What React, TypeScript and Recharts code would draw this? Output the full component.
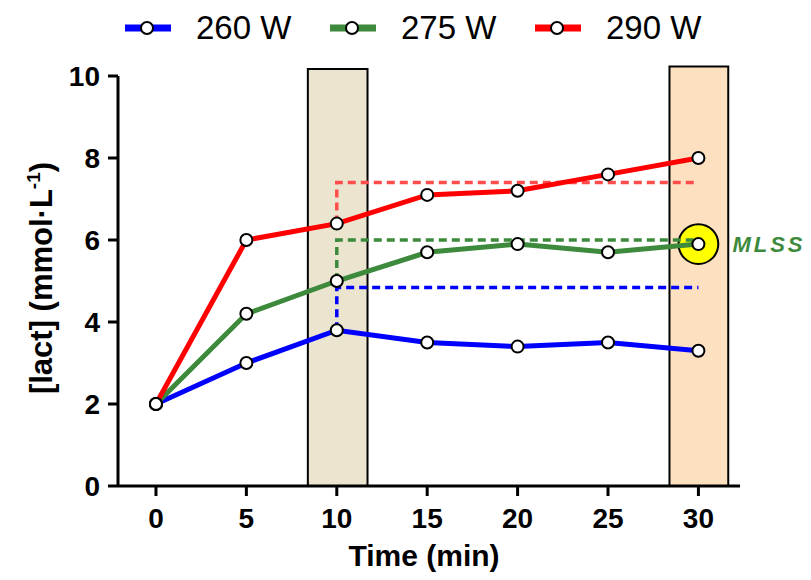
import {
  Label,
  Line,
  LineChart,
  ReferenceArea,
  ReferenceDot,
  XAxis,
  YAxis,
} from "recharts";

const minutes = [0, 5, 10, 15, 20, 25, 30];
const w260 = [2, 3.0, 3.8, 3.5, 3.4, 3.5, 3.3];
const w275 = [2, 4.2, 5.0, 5.7, 5.9, 5.7, 5.9];
const w290 = [2, 6.0, 6.4, 7.1, 7.2, 7.6, 8.0];
const xTicks = [0, 5, 10, 15, 20, 25, 30];
const yTicks = [0, 2, 4, 6, 8, 10];

// plateau level reached from 10 min on (dashed guides)
const plateau260 = 4.84;
const plateau275 = 6.0;
const plateau290 = 7.4;

// shaded sampling windows: [from, to, top]
const windowEarly = [8.4, 11.7, 10.17];
const windowLate = [28.4, 31.65, 10.23];
// MLSS marker: time, value, half-width (min), half-height (mmol/L)
const mlss = [30, 5.9, 1.1, 0.49];

const BLUE = "#0000ff";
const GREEN = "#3d8a3d";
const RED = "#ff0000";
const FONT = "'Liberation Sans', Arial, sans-serif";

const data = minutes.map((t, i) => ({ t, a: w260[i], b: w275[i], c: w290[i] }));

const guide = (start: number, level: number) => [
  { t: 10, v: start },
  { t: 10, v: level },
  { t: 30, v: level },
];

const series = [
  { key: "a", name: "260 W", color: BLUE },
  { key: "b", name: "275 W", color: GREEN },
  { key: "c", name: "290 W", color: RED },
];

const dot = { r: 6, fill: "#fff", stroke: "#000", strokeWidth: 2 };
const tickStyle = { fontFamily: FONT, fontWeight: 700, fontSize: 28, fill: "#000" };

function YTitle() {
  return (
    <text
      transform="translate(44,270) rotate(-90)"
      textAnchor="middle"
      fontFamily={FONT}
      fontWeight={700}
      fontSize={31}
      fill="#000"
    >
      [lact] (mmol·L
      <tspan dy={-12} fontSize={19}>-1</tspan>
      <tspan dy={12}>)</tspan>
    </text>
  );
}

function XTitle({ viewBox }: any) {
  return (
    <text
      x={viewBox.x + viewBox.width / 2 - 5}
      y={viewBox.y + 80}
      textAnchor="middle"
      fontFamily={FONT}
      fontWeight={700}
      fontSize={30}
      fill="#000"
    >
      Time (min)
    </text>
  );
}

function MlssRing(props: any) {
  const { x, y, width, height } = props;
  const r = Math.min(Math.abs(width), Math.abs(height)) / 2;
  return (
    <circle
      cx={x + width / 2}
      cy={y + height / 2}
      r={r}
      fill="#ffff00"
      stroke="#000"
      strokeWidth={2}
    />
  );
}

function LegendBar() {
  return (
    <>
      {series.map((s, i) => (
        <div
          key={s.key}
          style={{
            position: "absolute",
            left: 117 + i * 205,
            top: 0,
            height: 40,
            display: "flex",
            alignItems: "center",
          }}
        >
          <svg width={46} height={20}>
            <line x1={0} y1={10} x2={46} y2={10} stroke={s.color} strokeWidth={7} />
            <circle cx={22} cy={10} r={6} fill="#fff" stroke="#000" strokeWidth={2} />
          </svg>
          <span
            style={{
              marginLeft: 25,
              fontFamily: FONT,
              fontSize: 33,
              color: "#000",
              lineHeight: "40px",
            }}
          >
            {s.name}
          </span>
        </div>
      ))}
    </>
  );
}

export default function App() {
  return (
    <div style={{ position: "relative", width: 803, height: 564 }}>
      <LineChart
        width={803}
        height={564}
        data={data}
        margin={{ top: 68, right: 71, bottom: 0, left: 0 }}
      >
        <XAxis
          dataKey="t"
          type="number"
          domain={[-2.1, 32.3]}
          allowDataOverflow
          ticks={xTicks}
          height={86}
          tickSize={10}
          tickMargin={12}
          axisLine={{ stroke: "#000", strokeWidth: 3 }}
          tickLine={{ stroke: "#000", strokeWidth: 3 }}
          tick={tickStyle}
        >
          <Label content={<XTitle />} />
        </XAxis>
        <YAxis
          type="number"
          domain={[0, 10]}
          ticks={yTicks}
          width={110}
          tickSize={10}
          tickMargin={8}
          axisLine={{ stroke: "#000", strokeWidth: 3 }}
          tickLine={{ stroke: "#000", strokeWidth: 3 }}
          tick={tickStyle}
        >
          <Label content={<YTitle />} />
        </YAxis>
        <ReferenceArea
          x1={windowEarly[0]}
          x2={windowEarly[1]}
          y1={0}
          y2={windowEarly[2]}
          ifOverflow="visible"
          fill="#ebe4cf"
          fillOpacity={1}
          stroke="#000"
          strokeWidth={2}
        />
        <ReferenceArea
          x1={windowLate[0]}
          x2={windowLate[1]}
          y1={0}
          y2={windowLate[2]}
          ifOverflow="visible"
          fill="#fde0c0"
          fillOpacity={1}
          stroke="#000"
          strokeWidth={2}
        />
        <ReferenceArea
          x1={mlss[0] - mlss[2]}
          x2={mlss[0] + mlss[2]}
          y1={mlss[1] - mlss[3]}
          y2={mlss[1] + mlss[3]}
          ifOverflow="visible"
          shape={<MlssRing />}
        />
        <ReferenceDot x={mlss[0]} y={mlss[1]} r={0} stroke="none" fill="none">
          <Label
            value="MLSS"
            position="right"
            offset={34}
            style={{
              fontFamily: FONT,
              fontWeight: 700,
              fontStyle: "italic",
              fontSize: 22,
              letterSpacing: 3,
              fill: GREEN,
            }}
          />
        </ReferenceDot>
        <Line
          data={guide(w260[2], plateau260)}
          dataKey="v"
          type="linear"
          stroke={BLUE}
          strokeWidth={3.5}
          strokeDasharray="8 5"
          dot={false}
          isAnimationActive={false}
        />
        <Line
          data={guide(w275[2], plateau275)}
          dataKey="v"
          type="linear"
          stroke={GREEN}
          strokeWidth={3.5}
          strokeDasharray="8 5"
          dot={false}
          isAnimationActive={false}
        />
        <Line
          data={guide(w290[2], plateau290)}
          dataKey="v"
          type="linear"
          stroke="#ff4d4d"
          strokeWidth={3.5}
          strokeDasharray="8 5"
          dot={false}
          isAnimationActive={false}
        />
        {series.map((s) => (
          <Line
            key={s.key}
            dataKey={s.key}
            type="linear"
            stroke={s.color}
            strokeWidth={5}
            dot={dot}
            isAnimationActive={false}
          />
        ))}
      </LineChart>
      <LegendBar />
    </div>
  );
}
